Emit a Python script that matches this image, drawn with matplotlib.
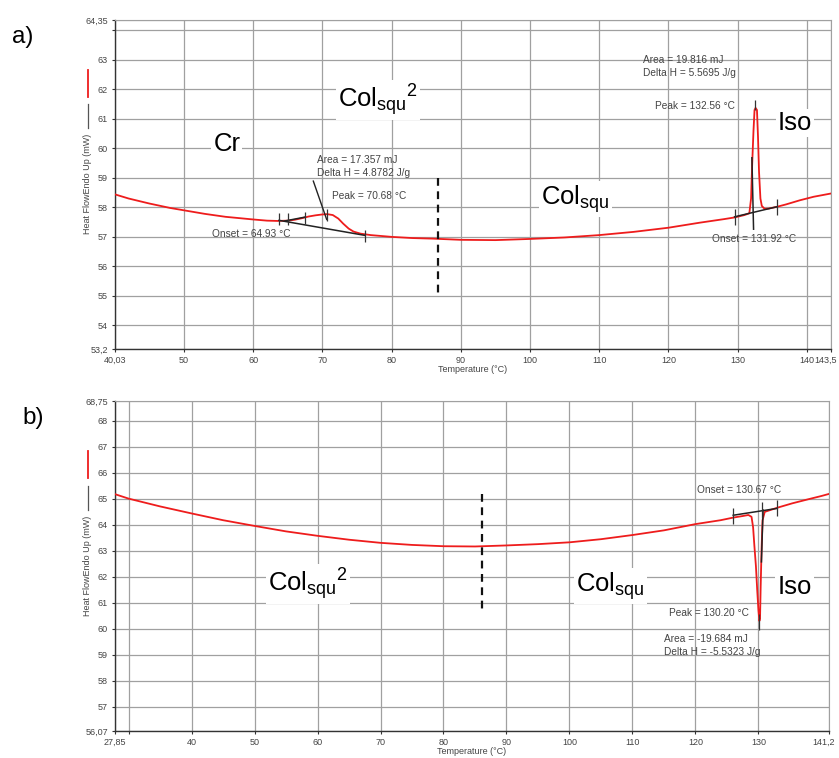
import matplotlib
matplotlib.use("Agg")
import matplotlib.pyplot as plt
from matplotlib.lines import Line2D
from matplotlib.transforms import ScaledTranslation

plt.rcParams['font.family'] = ['Liberation Sans', 'DejaVu Sans']
plt.rcParams['mathtext.fontset'] = 'custom'
plt.rcParams['mathtext.rm'] = 'Liberation Sans'
plt.rcParams['mathtext.it'] = 'Liberation Sans'

# ---- panel a : heating ----
temp_a = [40.03, 42, 45, 48, 50, 53, 56, 60, 62, 63.5, 65, 66, 67, 68, 69, 70, 70.7,
          71.5, 72.3, 73, 73.8, 74.5, 75.5, 77, 80, 83, 86, 90, 95, 100, 105, 110,
          115, 120, 124.5, 128, 129.6, 131, 131.7, 131.95, 132.1, 132.3, 132.45,
          132.6, 132.8, 132.95, 133.1, 133.3, 133.5, 133.9, 134.5, 135.7, 137, 139,
          141, 143.5]
flow_a = [58.44, 58.3, 58.13, 57.98, 57.9, 57.78, 57.68, 57.59, 57.55, 57.54, 57.55,
          57.58, 57.63, 57.69, 57.73, 57.76, 57.77, 57.74, 57.62, 57.45, 57.28, 57.18,
          57.11, 57.06, 57.0, 56.96, 56.94, 56.9, 56.89, 56.93, 56.98, 57.06, 57.17,
          57.31, 57.48, 57.6, 57.66, 57.74, 57.8, 58.3, 59.4, 60.6, 61.3, 61.37, 61.3,
          60.4, 59.2, 58.3, 58.05, 57.95, 57.96, 58.02, 58.1, 58.24, 58.36, 58.47]

# black construction lines, panel a
base_a1_t = [63.73, 76.16]
base_a1_y = [57.56, 57.05]
tang_a1_t = [64.6, 67.49]
tang_a1_y = [57.54, 57.67]
lead_a1_t = [68.69, 70.62]
lead_a1_y = [58.89, 57.59]
ticks_a1_t = [63.73, 64.99, 67.49, 70.62, 76.16]
ticks_a1_y = [57.60, 57.59, 57.65, 57.73, 57.03]

base_a2_t = [129.57, 135.68]
base_a2_y = [57.68, 58.02]
tang_a2_t = [132.31, 132.07]
tang_a2_y = [57.26, 59.68]
ticks_a2_t = [129.57, 135.68]
ticks_a2_y = [57.68, 58.0]
peak_a2_t = [132.56]
peak_a2_y = [61.48]

dash_a_t = [86.66, 86.66]
dash_a_y = [59.0, 55.04]

# ---- panel b : cooling ----
temp_b = [27.85, 30, 35, 40, 45, 50, 55, 60, 65, 70, 75, 80, 85, 90, 95, 100, 105,
          110, 115, 120, 124, 126, 127.5, 128.4, 128.9, 129.15, 129.35, 129.6, 129.8,
          130.0, 130.15, 130.25, 130.35, 130.5, 130.65, 131.0, 132, 133, 135.4, 138,
          140, 141.2]
flow_b = [65.17, 65.0, 64.7, 64.43, 64.17, 63.95, 63.74, 63.57, 63.42, 63.3, 63.22,
          63.17, 63.16, 63.2, 63.25, 63.32, 63.44, 63.6, 63.78, 64.02, 64.17, 64.27,
          64.33, 64.37, 64.3, 63.9, 63.2, 62.4, 61.5, 60.7, 60.3, 60.4, 61.6, 63.1,
          64.17, 64.49, 64.57, 64.65, 64.82, 64.98, 65.1, 65.18]

base_b_t = [125.99, 132.89]
base_b_y = [64.36, 64.62]
tang_b_t = [130.73, 130.47]
tang_b_y = [64.56, 62.57]
ticks_b_t = [125.99, 130.6, 132.89]
ticks_b_y = [64.35, 64.56, 64.62]
peak_b_t = [130.16]
peak_b_y = [60.26]

dash_b_t = [86.08, 86.08]
dash_b_y = [65.16, 60.71]

# axis ticks
xt_a = [40.03, 50, 60, 70, 80, 90, 100, 110, 120, 130, 140, 143.5]
xl_a = ['40,03', '50', '60', '70', '80', '90', '100', '110', '120', '130', '140', '143,5']
yt_a = [53.2, 54, 55, 56, 57, 58, 59, 60, 61, 62, 63, 64, 64.35]
yl_a = ['53,2', '54', '55', '56', '57', '58', '59', '60', '61', '62', '63', '', '64,35']

xt_b = [27.85, 30, 40, 50, 60, 70, 80, 90, 100, 110, 120, 130, 141.2]
xl_b = ['27,85', '', '40', '50', '60', '70', '80', '90', '100', '110', '120', '130', '141,2']
yt_b = [56.07, 57, 58, 59, 60, 61, 62, 63, 64, 65, 66, 67, 68, 68.75]
yl_b = ['56,07', '57', '58', '59', '60', '61', '62', '63', '64', '65', '66', '67', '68', '68,75']

W, H = 839, 758
fig = plt.figure(figsize=(W / 100, H / 100), dpi=100)
fig.patch.set_facecolor('white')


def box(l, t, r, b):
    return [l / W, 1 - b / H, (r - l) / W, (b - t) / H]


txt_col = '#444444'
grid_col = '#a0a0a0'


def style(ax, xt, xl, yt, yl, xlim, ylim):
    ax.set_xlim(*xlim)
    ax.set_ylim(*ylim)
    ax.set_xticks(xt)
    ax.set_xticklabels(xl)
    ax.set_yticks(yt)
    ax.set_yticklabels(yl)
    ax.grid(True, color=grid_col, lw=0.9)
    ax.set_axisbelow(True)
    for s in ['top', 'right']:
        ax.spines[s].set_color(grid_col)
    for s in ['left', 'bottom']:
        ax.spines[s].set_color('#333333')
        ax.spines[s].set_linewidth(1.0)
    ax.tick_params(length=2.5, width=0.8, color='#333333', labelsize=6.5,
                   labelcolor=txt_col, pad=2.5)
    ax.set_xlabel('Temperature (°C)', fontsize=6.5, color=txt_col, labelpad=0)
    # last x label sits at the very edge of the picture: keep it inside
    last = ax.get_xticklabels()[-1]
    last.set_ha('right')
    last.set_transform(last.get_transform() +
                       ScaledTranslation(6 / 100, 0, fig.dpi_scale_trans))


lab = dict(fontsize=18.5, color='black', ha='center', va='baseline',
           bbox=dict(facecolor='white', edgecolor='none', pad=1.5), zorder=5)
ann = dict(fontsize=7.3, color=txt_col, ha='left', va='center', zorder=6)
col2 = r'Col$_{\mathrm{squ}}$$^{\mathrm{2}}$'
col1 = r'Col$_{\mathrm{squ}}$'

# ---------------- panel a ----------------
ax1 = fig.add_axes(box(115, 20, 831, 349))
style(ax1, xt_a, xl_a, yt_a, yl_a, (40.03, 143.5), (53.2, 64.35))
ax1.plot(temp_a, flow_a, color='#ee1c1c', lw=1.3, zorder=3)
ax1.plot(base_a1_t, base_a1_y, color='#222222', lw=1.1, zorder=4)
ax1.plot(tang_a1_t, tang_a1_y, color='#222222', lw=1.1, zorder=4)
ax1.plot(lead_a1_t, lead_a1_y, color='#222222', lw=1.0, zorder=4)
ax1.plot(ticks_a1_t, ticks_a1_y, ls='none', marker='|', ms=9, mew=0.9, color='#333333', zorder=4)
ax1.plot(base_a2_t, base_a2_y, color='#222222', lw=1.1, zorder=4)
ax1.plot(tang_a2_t, tang_a2_y, color='#222222', lw=1.1, zorder=4)
ax1.plot(ticks_a2_t, ticks_a2_y, ls='none', marker='|', ms=11, mew=0.9, color='#333333', zorder=4)
ax1.plot(peak_a2_t, peak_a2_y, ls='none', marker='|', ms=7, mew=0.9, color='#333333', zorder=4)
ax1.plot(dash_a_t, dash_a_y, color='#111111', lw=1.6, dashes=(3.5, 2.5), zorder=4)

ax1.text(56.2, 59.92, 'Cr', **lab)
ax1.text(78.0, 61.4, col2, **lab)
ax1.text(106.6, 58.1, col1, **lab)
ax1.text(138.3, 60.63, 'Iso', **lab)

ax1.text(69.22, 59.62, 'Area = 17.357 mJ', **ann)
ax1.text(69.22, 59.18, 'Delta H = 4.8782 J/g', **ann)
ax1.text(71.39, 58.37, 'Peak = 70.68 °C', **ann)
ax1.text(54.05, 57.11, 'Onset = 64.93 °C', **ann)
ax1.text(116.33, 63.0, 'Area = 19.816 mJ', **ann)
ax1.text(116.33, 62.56, 'Delta H = 5.5695 J/g', **ann)
ax1.text(118.06, 61.44, 'Peak = 132.56 °C', **ann)
ax1.text(126.25, 56.92, 'Onset = 131.92 °C', **ann)

# ---------------- panel b ----------------
ax2 = fig.add_axes(box(115, 401, 829, 731))
style(ax2, xt_b, xl_b, yt_b, yl_b, (27.85, 141.2), (56.07, 68.75))
ax2.plot(temp_b, flow_b, color='#ee1c1c', lw=1.3, zorder=3)
ax2.plot(base_b_t, base_b_y, color='#222222', lw=1.1, zorder=4)
ax2.plot(tang_b_t, tang_b_y, color='#222222', lw=1.1, zorder=4)
ax2.plot(ticks_b_t, ticks_b_y, ls='none', marker='|', ms=11, mew=0.9, color='#333333', zorder=4)
ax2.plot(peak_b_t, peak_b_y, ls='none', marker='|', ms=12, mew=0.9, color='#333333', zorder=4)
ax2.plot(dash_b_t, dash_b_y, color='#111111', lw=1.6, dashes=(3.5, 2.5), zorder=4)

ax2.text(58.55, 61.42, col2, **lab)
ax2.text(106.5, 61.42, col1, **lab)
ax2.text(135.76, 61.35, 'Iso', **lab)

ax2.text(120.27, 65.33, 'Onset = 130.67 °C', **ann)
ax2.text(115.77, 60.61, 'Peak = 130.20 °C', **ann)
ax2.text(115.0, 59.62, 'Area = -19.684 mJ', **ann)
ax2.text(115.0, 59.11, 'Delta H = -5.5323 J/g', **ann)

# y labels with little legend strokes, like the instrument software
for top, (r0, r1, k0, k1, t0, t1) in zip([0, 381], [(70, 97, 104, 128, 135, 233),
                                                    (70, 97, 105, 129, 135, 235)]):
    x = 87.5 / W
    fig.add_artist(Line2D([x, x], [1 - (top + r0) / H, 1 - (top + r1) / H],
                          color='#ee1c1c', lw=1.3))
    fig.add_artist(Line2D([x, x], [1 - (top + k0) / H, 1 - (top + k1) / H],
                          color='#555555', lw=0.9))
    fig.text(x, 1 - (top + (t0 + t1) / 2) / H, 'Heat FlowEndo Up (mW)', rotation=90,
             fontsize=6.5, color=txt_col, ha='center', va='center')

fig.text(12 / W, 1 - 37 / H, 'a)', fontsize=17.5, ha='left', va='center')
fig.text(22 / W, 1 - 418 / H, 'b)', fontsize=17.5, ha='left', va='center')

fig.savefig('out.png', dpi=100, facecolor='white')
